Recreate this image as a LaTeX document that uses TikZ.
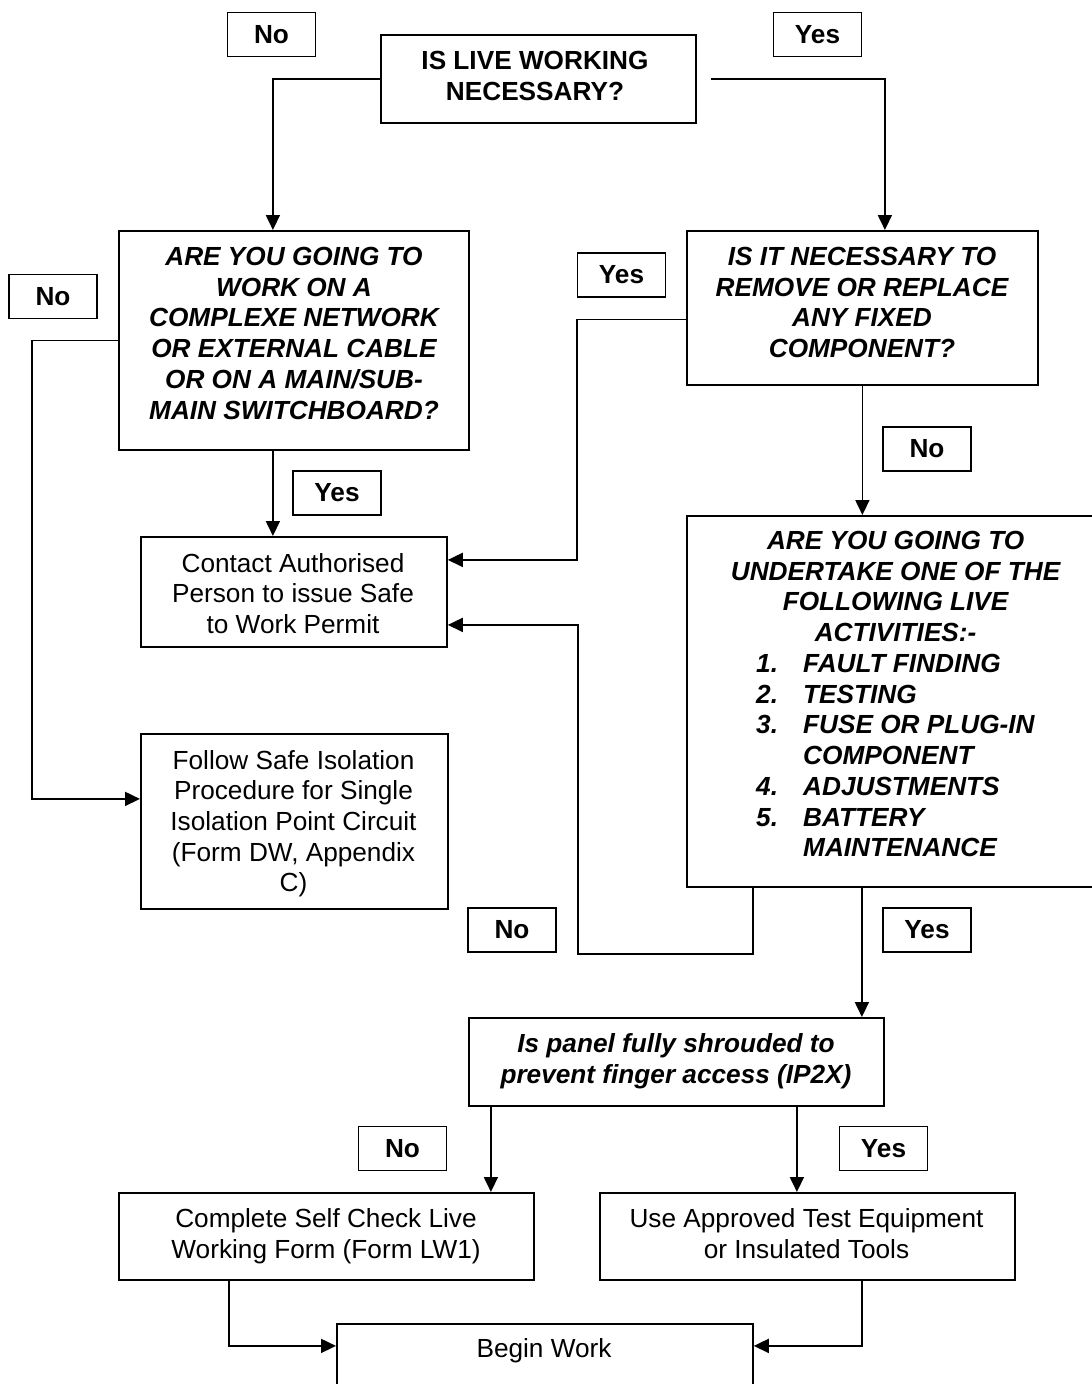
\documentclass[tikz,border=0pt]{standalone}
\usepackage{fontspec}
\setmainfont{Liberation Sans}
\usetikzlibrary{arrows.meta}
\newcommand\fsz{\fontsize{26.2}{30.7}\selectfont}
\begin{document}
\begin{tikzpicture}[x=1pt,y=-1pt,
  box/.style={draw, line width=1.8pt, inner sep=0pt, anchor=north west},
  txt/.style={inner sep=0pt, anchor=north, align=center, font=\fsz, execute at begin node=\strut, execute at end node=\strut},
  btxt/.style={txt, font=\fsz\bfseries},
  qtxt/.style={txt, font=\fsz\bfseries\itshape},
  lbl/.style={draw, line width=1.8pt, inner sep=0pt, minimum width=88pt, minimum height=44pt, font=\fsz\bfseries},
  arr/.style={line width=1.8pt, -{Triangle[length=15pt,width=14pt]}}]
\useasboundingbox (0,0) rectangle (1092,1384);
\fill[white] (0,0) rectangle (1092,1384);
\clip (0,0) rectangle (1092,1384);

% boxes
\node[box, minimum width=315pt, minimum height=88pt] (q0) at (380,34) {};
\node[box, minimum width=350pt, minimum height=219pt] (q1) at (118,230) {};
\node[box, minimum width=351pt, minimum height=154pt] (q2) at (686,230) {};
\node[box, minimum width=306pt, minimum height=110pt] (a1) at (140,536) {};
\node[box, minimum width=307pt, minimum height=175pt] (a2) at (140,733) {};
\node[box, minimum width=419pt, minimum height=371pt] (q3) at (686,515) {};
\node[box, minimum width=415pt, minimum height=88pt] (q4) at (468,1017) {};
\node[box, minimum width=415pt, minimum height=87pt] (a3) at (118,1192) {};
\node[box, minimum width=415pt, minimum height=87pt] (a4) at (599,1192) {};
\node[box, minimum width=416pt, minimum height=100pt] (a5) at (336,1323) {};

% texts
\node[btxt] (t0) at (535,51.5) {IS LIVE WORKING\\NECESSARY?};
\node[qtxt] (t1) at (294,247) {ARE YOU GOING TO\\WORK ON A\\COMPLEXE NETWORK\\OR EXTERNAL CABLE\\OR ON A MAIN/SUB-\\MAIN SWITCHBOARD?};
\node[qtxt] (t2) at (862,247) {IS IT NECESSARY TO\\REMOVE OR REPLACE\\ANY FIXED\\COMPONENT?};
\node[txt] (t3) at (293,553) {Contact Authorised\\Person to issue Safe\\to Work Permit};
\node[txt] (t4) at (293.5,750) {Follow Safe Isolation\\Procedure for Single\\Isolation Point Circuit\\(Form DW, Appendix\\C)};
\node[qtxt] (t5) at (895.6,531) {ARE YOU GOING TO\\UNDERTAKE ONE OF THE\\FOLLOWING LIVE\\ACTIVITIES:-};
\node[qtxt, anchor=north west, align=left] (t6) at (756,654) {\makebox[47pt][l]{1.}FAULT FINDING\\\makebox[47pt][l]{2.}TESTING\\\makebox[47pt][l]{3.}FUSE OR PLUG-IN\\\hspace*{47pt}COMPONENT\\\makebox[47pt][l]{4.}ADJUSTMENTS\\\makebox[47pt][l]{5.}BATTERY\\\hspace*{47pt}MAINTENANCE};
\node[qtxt] (t7) at (676,1033.5) {Is panel fully shrouded to\\prevent finger access (IP2X)};
\node[txt] (t8) at (326,1208.5) {Complete Self Check Live\\Working Form (Form LW1)};
\node[txt] (t9) at (806.5,1208.5) {Use Approved Test Equipment\\or Insulated Tools};
\node[txt] (t10) at (544,1336) {Begin Work};

% labels
\node[lbl] (l1) at (271.5,34.5) {No};
\node[lbl] (l2) at (817.5,34.5) {Yes};
\node[lbl] (l3) at (53,296.5) {No};
\node[lbl] (l4) at (621.5,275) {Yes};
\node[lbl] (l5) at (337,493) {Yes};
\node[lbl] (l6) at (927,449) {No};
\node[lbl] (l7) at (512,930) {No};
\node[lbl] (l8) at (927,930) {Yes};
\node[lbl] (l9) at (402.5,1148.5) {No};
\node[lbl] (l10) at (883.5,1148.5) {Yes};

% connectors
\draw[arr] (q0.west) -| ([xshift=-21pt]q1.north);
\draw[arr] ([xshift=14pt]q0.east) -| ([xshift=22.5pt]q2.north);
\draw[arr] (q1.west) -- ++(-86.4,0) |- ([yshift=22.5pt]a2.west);
\draw[arr] ([xshift=-21pt]q1.south) -- ([xshift=-21pt]a1.north);
\draw[arr] ([yshift=-11.5pt]q2.west) -- ++(-109,0) |- ([yshift=32pt]a1.east);
\draw[arr] (q2.south) -- (q2.south |- q3.north);
\draw[arr] ([xshift=-143.5pt]q3.south) -- ++(0,66) -- ++(-175,0) |- ([yshift=-33pt]a1.east);
\draw[arr] ([xshift=-34.5pt]q3.south) -- ([xshift=-34.5pt]q3.south |- q4.north);
\draw[arr] ([xshift=-185.5pt]q4.south) -- ([xshift=-185.5pt]q4.south |- a3.north);
\draw[arr] ([xshift=120.5pt]q4.south) -- ([xshift=120.5pt]q4.south |- a4.north);
\draw[arr] ([xshift=-97.5pt]a3.south) |- ([yshift=28pt]a5.west);
\draw[arr] ([xshift=54.5pt]a4.south) |- ([yshift=28pt]a5.east);
\end{tikzpicture}
\end{document}
